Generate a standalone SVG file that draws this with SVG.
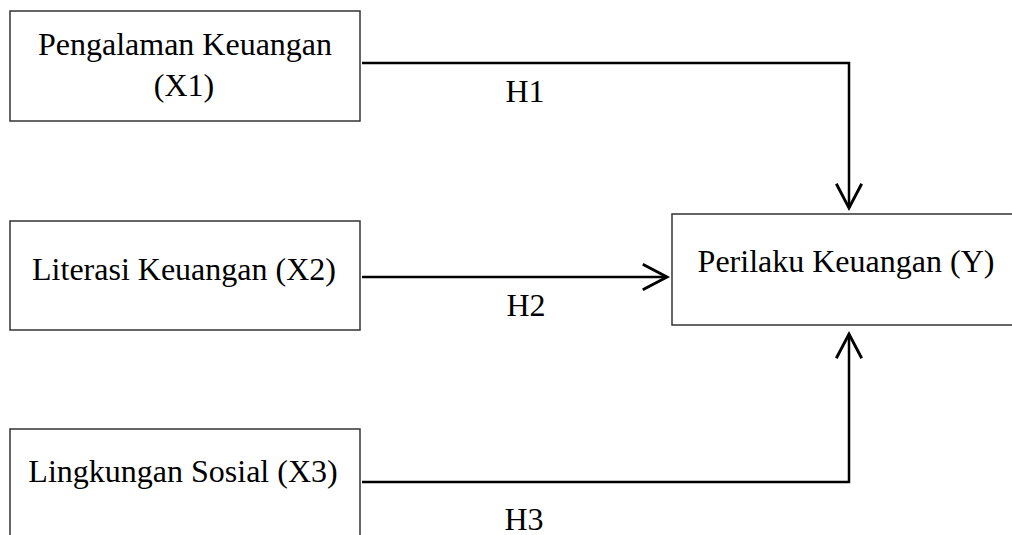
<svg xmlns="http://www.w3.org/2000/svg" width="1012" height="535" viewBox="0 0 1012 535">
<style>
.box{fill:#fff;stroke:#333;stroke-width:1.5}
.lbl{font-family:"Liberation Serif","Times New Roman",serif;font-size:32px;fill:#000;text-anchor:middle}
.conn{fill:none;stroke:#000;stroke-width:2.5}
</style>
<defs>
<marker id="arr" markerUnits="userSpaceOnUse" markerWidth="30" markerHeight="30" refX="0" refY="0" viewBox="-22 -13 24 26" orient="auto" overflow="visible">
<path d="M-21,-11 L0,0 L-21,11" fill="none" stroke="#000" stroke-width="2.5"/>
</marker>
</defs>
<rect width="1012" height="535" fill="#fff"/>
<g id="x1">
<rect class="box" x="10" y="11" width="350" height="110"/>
<text class="lbl" x="185" y="55">Pengalaman Keuangan</text>
<text class="lbl" x="184" y="96">(X1)</text>
</g>
<g id="x2">
<rect class="box" x="10" y="221" width="350" height="109"/>
<text class="lbl" x="184" y="280">Literasi Keuangan (X2)</text>
</g>
<g id="x3">
<rect class="box" x="10" y="429" width="350" height="120"/>
<text class="lbl" x="183" y="482">Lingkungan Sosial (X3)</text>
</g>
<g id="y">
<rect class="box" x="672" y="214" width="345" height="111"/>
<text class="lbl" x="846" y="272">Perilaku Keuangan (Y)</text>
</g>
<g id="connectors">
<path class="conn" d="M362,63 H849 V208" marker-end="url(#arr)"/>
<path class="conn" d="M362,277 H667" marker-end="url(#arr)"/>
<path class="conn" d="M362,482 H849 V334" marker-end="url(#arr)"/>
<text class="lbl" x="525" y="102">H1</text>
<text class="lbl" x="526" y="316">H2</text>
<text class="lbl" x="524" y="530">H3</text>
</g>
</svg>
